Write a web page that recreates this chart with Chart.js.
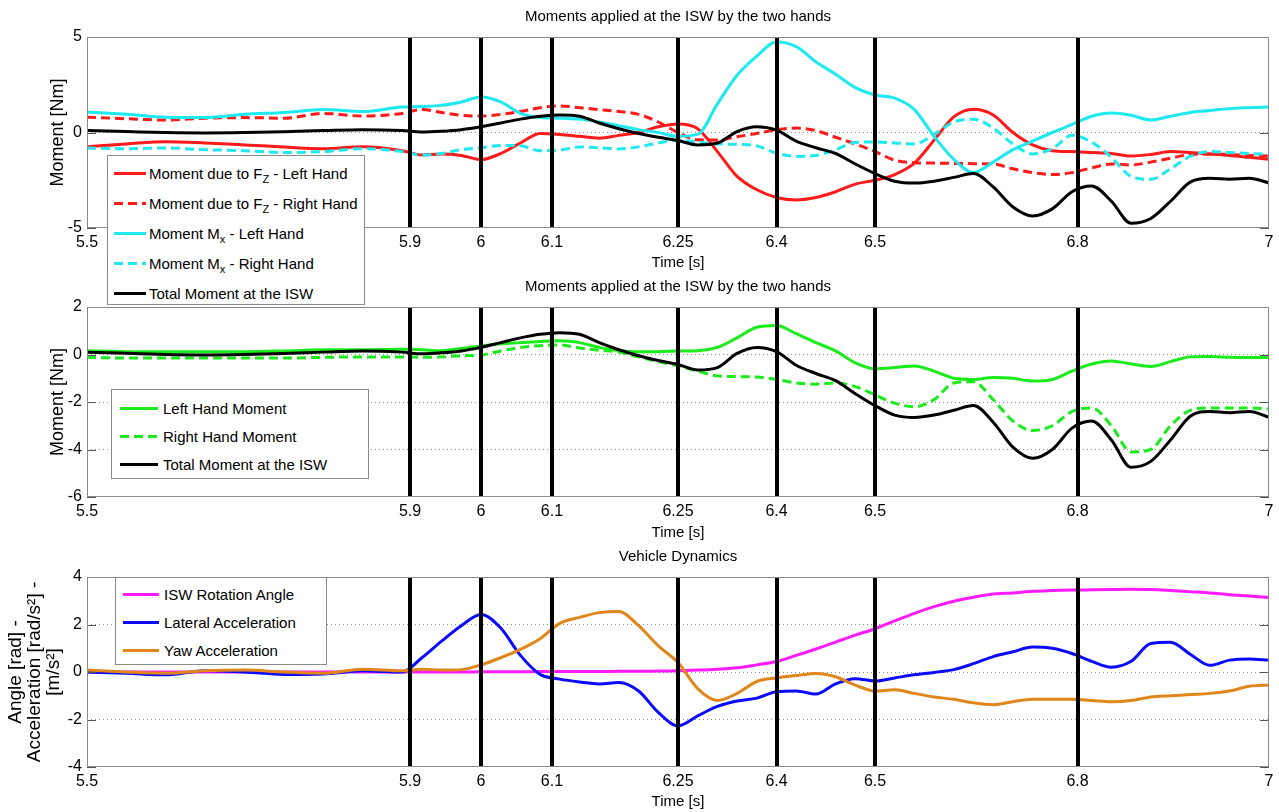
<!DOCTYPE html>
<html>
<head>
<meta charset="utf-8">
<title>ISW moments and vehicle dynamics</title>
<script src="https://cdn.jsdelivr.net/npm/chart.js@4.4.1/dist/chart.umd.min.js"></script>
<style>
    html, body { margin: 0; padding: 0; background: #fff; }
    #page { position: relative; width: 1279px; height: 812px; overflow: hidden; font-family: "Liberation Sans", Arial, sans-serif; }
    #page canvas { position: absolute; left: 0; }
    .legend { position: absolute; box-sizing: border-box; background: #fff; border: 1px solid #8a8a8a; z-index: 2; font-size: 15px; color: #000; }
    .legend .row { display: flex; align-items: center; white-space: nowrap; }
    .legend .swatch { flex: none; height: 3px; }
    .legend sub { font-size: 11px; vertical-align: -4px; line-height: 0; }
</style>
</head>
<body>
<div id="page">
    <canvas id="chart-hands" width="1279" height="275" style="top:0"></canvas>
    <canvas id="chart-total" width="1279" height="270" style="top:275px"></canvas>
    <canvas id="chart-vehicle" width="1279" height="267" style="top:545px"></canvas>
    <div id="legend-hands" class="legend" style="left:107px;top:155px;width:258px;height:150px"></div>
    <div id="legend-total" class="legend" style="left:111px;top:389px;width:258px;height:90px"></div>
    <div id="legend-vehicle" class="legend" style="left:115px;top:577px;width:212px;height:88px"></div>
</div>
<script>
const time = [5.5, 5.55, 5.6, 5.65, 5.7, 5.75, 5.8, 5.85, 5.9, 5.925, 5.95, 5.975, 6.0, 6.025, 6.05, 6.075,
    6.1, 6.125, 6.15, 6.175, 6.2, 6.225, 6.25, 6.275, 6.3, 6.325, 6.35, 6.375, 6.4, 6.425, 6.45, 6.475,
    6.5, 6.525, 6.55, 6.575, 6.6, 6.625, 6.65, 6.675, 6.7, 6.725, 6.75, 6.775, 6.8, 6.825, 6.85, 6.875,
    6.9, 6.925, 6.95, 6.975, 7.0];

// event instants (vertical black lines) and the labels shown under them
const eventTimes = [5.91, 6.0, 6.09, 6.25, 6.375, 6.5, 6.757];
const xTickValues = [5.5, ...eventTimes, 7];
const xTickLabels = ["5.5", "5.9", "6", "6.1", "6.25", "6.4", "6.5", "6.8", "7"];

// top plot
const fzLeft = [-0.74, -0.6, -0.48, -0.55, -0.65, -0.76, -0.85, -0.75, -0.95, -1.18, -1.13, -1.2, -1.42, -1.1, -0.55, -0.05,
    -0.1, -0.2, -0.3, -0.15, 0.0, 0.3, 0.45, 0.2, -1.0, -2.3, -3.0, -3.4, -3.53, -3.4, -3.1, -2.7,
    -2.5, -2.2, -1.6, -0.4, 0.82, 1.22, 0.92, 0.0, -0.65, -0.95, -1.0, -1.05, -1.1, -1.23, -1.15, -1.0,
    -1.05, -1.13, -1.2, -1.3, -1.4];
const fzRight = [0.8, 0.72, 0.65, 0.75, 0.78, 0.75, 1.0, 0.86, 1.0, 1.2, 1.05, 0.9, 0.86, 0.95, 1.1, 1.3,
    1.39, 1.3, 1.2, 1.1, 0.95, 0.55, 0.0, -0.38, -0.39, -0.22, -0.05, 0.15, 0.23, 0.1, -0.25, -0.6,
    -1.0, -1.45, -1.58, -1.6, -1.62, -1.63, -1.65, -1.9, -2.1, -2.2, -2.1, -1.85, -1.65, -1.7, -1.55, -1.35,
    -1.15, -1.12, -1.15, -1.2, -1.23];
const mxLeft = [1.07, 0.95, 0.8, 0.78, 0.95, 1.05, 1.2, 1.1, 1.33, 1.36, 1.42, 1.6, 1.86, 1.6, 1.0, 0.78,
    0.75, 0.7, 0.55, 0.36, 0.15, 0.0, -0.2, -0.1, 1.5, 3.0, 4.0, 4.74, 4.5, 3.7, 3.05, 2.35,
    1.96, 1.8, 1.2, -0.2, -1.4, -2.1, -1.55, -0.9, -0.45, 0.0, 0.42, 0.85, 1.02, 0.9, 0.65, 0.85,
    1.05, 1.15, 1.25, 1.3, 1.34];
const mxRight = [-0.81, -0.85, -0.81, -0.9, -0.95, -1.05, -1.0, -0.85, -1.0, -1.18, -1.1, -0.9, -0.8, -0.68, -0.7, -0.95,
    -0.92, -0.76, -0.8, -0.86, -0.75, -0.55, -0.4, -0.5, -0.6, -0.62, -0.7, -1.08, -1.25, -1.2, -0.9, -0.52,
    -0.5, -0.55, -0.6, -0.1, 0.55, 0.7, 0.23, -0.6, -1.12, -0.85, -0.15, -0.5, -1.3, -2.3, -2.45, -1.9,
    -1.25, -1.0, -1.05, -1.1, -1.13];
const totalMoment = [0.1, 0.05, 0.0, -0.02, 0.0, 0.04, 0.1, 0.15, 0.1, 0.03, 0.07, 0.15, 0.3, 0.5, 0.7, 0.85,
    0.92, 0.85, 0.5, 0.2, -0.05, -0.25, -0.42, -0.65, -0.55, 0.05, 0.3, 0.12, -0.45, -0.8, -1.1, -1.65,
    -2.15, -2.55, -2.65, -2.55, -2.35, -2.15, -2.85, -3.9, -4.37, -4.0, -3.1, -2.8, -3.6, -4.75, -4.5, -3.6,
    -2.6, -2.4, -2.45, -2.4, -2.64];

// middle plot
const leftHandMoment = [0.16, 0.12, 0.12, 0.12, 0.12, 0.15, 0.2, 0.2, 0.22, 0.2, 0.16, 0.25, 0.36, 0.45, 0.5, 0.55,
    0.58, 0.5, 0.3, 0.16, 0.12, 0.12, 0.15, 0.16, 0.3, 0.7, 1.15, 1.22, 0.88, 0.5, 0.15, -0.35,
    -0.6, -0.55, -0.48, -0.7, -1.0, -1.05, -0.97, -1.0, -1.12, -1.05, -0.7, -0.4, -0.27, -0.4, -0.5, -0.3,
    -0.1, -0.08, -0.12, -0.13, -0.13];
const rightHandMoment = [-0.12, -0.15, -0.15, -0.15, -0.15, -0.15, -0.12, -0.1, -0.1, -0.12, -0.1, -0.05, -0.02, 0.15, 0.3, 0.37,
    0.4, 0.27, 0.18, 0.1, -0.1, -0.3, -0.48, -0.7, -0.9, -0.93, -0.95, -1.05, -1.2, -1.25, -1.2, -1.35,
    -1.7, -2.05, -2.2, -1.9, -1.2, -1.15, -1.9, -2.8, -3.2, -3.0, -2.4, -2.25, -3.0, -4.1, -4.0, -3.0,
    -2.35, -2.25, -2.25, -2.25, -2.3];

// bottom plot
const rotationAngle = [0, 0, 0, 0, 0, 0, 0, 0, 0, 0, 0, 0, 0.01, 0.01, 0.01, 0.02,
    0.02, 0.02, 0.02, 0.03, 0.03, 0.04, 0.05, 0.08, 0.12, 0.18, 0.3, 0.44, 0.7, 0.97, 1.26, 1.55,
    1.82, 2.15, 2.47, 2.75, 2.98, 3.15, 3.28, 3.33, 3.4, 3.43, 3.45, 3.46, 3.47, 3.48, 3.47, 3.43,
    3.38, 3.33, 3.25, 3.2, 3.14];
const lateralAccel = [0.0, -0.05, -0.12, 0.05, 0.0, -0.1, -0.08, 0.05, 0.0, 0.6, 1.3, 1.95, 2.42, 1.85, 0.7, -0.1,
    -0.3, -0.42, -0.5, -0.44, -0.8, -1.7, -2.27, -1.85, -1.45, -1.22, -1.1, -0.83, -0.8, -0.93, -0.5, -0.28,
    -0.38, -0.25, -0.12, -0.02, 0.1, 0.35, 0.65, 0.85, 1.05, 1.0, 0.78, 0.45, 0.2, 0.45, 1.2, 1.25,
    0.75, 0.28, 0.5, 0.55, 0.5];
const yawAccel = [0.08, 0.0, -0.05, 0.05, 0.08, 0.0, -0.05, 0.12, 0.05, 0.12, 0.08, 0.1, 0.3, 0.6, 0.95, 1.4,
    2.05, 2.3, 2.5, 2.55, 1.95, 1.1, 0.4, -0.7, -1.2, -0.9, -0.4, -0.25, -0.15, -0.06, -0.2, -0.55,
    -0.8, -0.75, -0.9, -1.05, -1.15, -1.3, -1.38, -1.25, -1.15, -1.15, -1.15, -1.2, -1.25, -1.2, -1.05, -1.0,
    -0.95, -0.9, -0.8, -0.6, -0.55];

Chart.defaults.font.family = '"Liberation Sans", Arial, sans-serif';
Chart.defaults.color = "#000";

function toPoints(values) {
    return values.map((value, i) => ({ x: time[i], y: value }));
}

function series(label, values, color, dashed = false) {
    return {
        label,
        data: toPoints(values),
        borderColor: color,
        backgroundColor: color,
        borderWidth: 3,
        borderDash: dashed ? [9, 5] : [],
        pointRadius: 0,
        cubicInterpolationMode: "monotone",
    };
}

// MATLAB look: event lines, inward y ticks and the grey box
const matlabAxes = {
    id: "matlabAxes",
    afterDatasetsDraw(chart) {
        const { ctx, chartArea: area, scales: { x, y } } = chart;

        ctx.save();
        ctx.strokeStyle = "#000";
        ctx.lineWidth = 4;
        eventTimes.forEach((t) => {
            const px = Math.round(x.getPixelForValue(t));
            ctx.beginPath();
            ctx.moveTo(px, area.top);
            ctx.lineTo(px, area.bottom);
            ctx.stroke();
        });

        ctx.strokeStyle = "#555";
        ctx.lineWidth = 1;
        y.ticks.forEach((tick) => {
            const py = Math.round(y.getPixelForValue(tick.value)) + 0.5;
            ctx.beginPath();
            ctx.moveTo(area.left, py);
            ctx.lineTo(area.left + 9, py);
            ctx.moveTo(area.right - 9, py);
            ctx.lineTo(area.right, py);
            ctx.stroke();
        });

        ctx.strokeStyle = "#8a8a8a";
        ctx.strokeRect(area.left + 0.5, area.top + 0.5, area.right - area.left - 1, area.bottom - area.top - 1);
        ctx.restore();
    },
};

function makeChart(canvasId, cfg) {
    return new Chart(document.getElementById(canvasId), {
        type: "line",
        data: { datasets: cfg.datasets.map((ds, i) => ({ ...ds, order: -i })) },
        plugins: [matlabAxes],
        options: {
            responsive: false,
            animation: false,
            layout: { padding: { left: 0, right: 10, top: 0, bottom: 0 } },
            plugins: {
                legend: { display: false },
                tooltip: { enabled: false },
                title: {
                    display: true,
                    fullSize: false,
                    text: cfg.title,
                    font: { size: 15, weight: "normal", lineHeight: 1.2 },
                    padding: cfg.titlePadding,
                },
            },
            scales: {
                x: {
                    type: "linear",
                    min: 5.5,
                    max: 7,
                    grid: { display: false, drawTicks: false },
                    border: { display: false },
                    afterBuildTicks(scale) {
                        scale.ticks = xTickValues.map((value) => ({ value }));
                    },
                    afterFit(scale) {
                        scale.height = cfg.xHeight;
                    },
                    ticks: {
                        autoSkip: false,
                        maxRotation: 0,
                        padding: 5,
                        font: { size: 16 },
                        callback(value, index) {
                            return xTickLabels[index];
                        },
                    },
                    title: {
                        display: true,
                        text: "Time [s]",
                        font: { size: 15, lineHeight: 1.2 },
                        padding: { top: 0, bottom: cfg.xTitleBottom },
                    },
                },
                y: {
                    min: cfg.yMin,
                    max: cfg.yMax,
                    afterFit(scale) {
                        scale.width = 87;
                    },
                    ticks: { stepSize: cfg.yStep, padding: 5, font: { size: 16 } },
                    grid: {
                        drawTicks: false,
                        lineWidth: 1,
                        color(context) {
                            const v = context.tick?.value;
                            return v === cfg.yMin || v === cfg.yMax ? "rgba(0,0,0,0)" : "#8c8c8c";
                        },
                    },
                    border: { display: false, dash: [1, 3] },
                    title: {
                        display: true,
                        text: cfg.yTitle,
                        font: cfg.yTitleFont,
                        padding: { top: cfg.yTitleTop, bottom: 0 },
                    },
                },
            },
        },
    });
}

function buildLegend(elId, chart, layout) {
    const el = document.getElementById(elId);
    const rows = chart.data.datasets.map((ds) => {
        const dashed = ds.borderDash && ds.borderDash.length;
        const fill = dashed
            ? `repeating-linear-gradient(90deg, ${ds.borderColor} 0 9px, transparent 9px 14px)`
            : ds.borderColor;
        const text = ds.label.replace(/_(\w)/g, "<sub>$1</sub>");
        return `<div class="row" style="height:${layout.rowHeight}px">
            <span class="swatch" style="margin-left:${layout.swatchLeft}px;width:${layout.swatchWidth}px;background:${fill}"></span>
            <span style="margin-left:${layout.gap}px">${text}</span>
        </div>`;
    });
    el.style.paddingTop = `${layout.padTop}px`;
    el.innerHTML = rows.join("");
}

const handsChart = makeChart("chart-hands", {
    title: "Moments applied at the ISW by the two hands",
    titlePadding: { top: 8, bottom: 11 },
    xHeight: 47,
    xTitleBottom: 3,
    yMin: -5,
    yMax: 5,
    yStep: 5,
    yTitle: "Moment [Nm]",
    yTitleFont: { size: 18, lineHeight: 1.2 },
    yTitleTop: 47,
    datasets: [
        series("Moment due to F_Z - Left Hand", fzLeft, "#ff1a1a"),
        series("Moment due to F_Z - Right Hand", fzRight, "#ff1a1a", true),
        series("Moment M_x - Left Hand", mxLeft, "#1de9f0"),
        series("Moment M_x - Right Hand", mxRight, "#1de9f0", true),
        series("Total Moment at the ISW", totalMoment, "#000000"),
    ],
});

const totalChart = makeChart("chart-total", {
    title: "Moments applied at the ISW by the two hands",
    titlePadding: { top: 3, bottom: 11 },
    xHeight: 48,
    xTitleBottom: 3,
    yMin: -6,
    yMax: 2,
    yStep: 2,
    yTitle: "Moment [Nm]",
    yTitleFont: { size: 18, lineHeight: 1.2 },
    yTitleTop: 47,
    datasets: [
        series("Left Hand Moment", leftHandMoment, "#1aeb1a"),
        series("Right Hand Moment", rightHandMoment, "#1aeb1a", true),
        series("Total Moment at the ISW", totalMoment, "#000000"),
    ],
});

const vehicleChart = makeChart("chart-vehicle", {
    title: "Vehicle Dynamics",
    titlePadding: { top: 3, bottom: 11 },
    xHeight: 45,
    xTitleBottom: 1,
    yMin: -4,
    yMax: 4,
    yStep: 2,
    yTitle: ["Angle [rad] -", "Acceleration [rad/s²] -", "[m/s²]"],
    yTitleFont: { size: 19, lineHeight: 1.0 },
    yTitleTop: 6,
    datasets: [
        series("ISW Rotation Angle", rotationAngle, "#ff1aff"),
        series("Lateral Acceleration", lateralAccel, "#0a0aff"),
        series("Yaw Acceleration", yawAccel, "#e0861b"),
    ],
});

buildLegend("legend-hands", handsChart, { padTop: 2, rowHeight: 30, swatchLeft: 6, swatchWidth: 32, gap: 3 });
buildLegend("legend-total", totalChart, { padTop: 4, rowHeight: 28, swatchLeft: 8, swatchWidth: 38, gap: 5 });
buildLegend("legend-vehicle", vehicleChart, { padTop: 2, rowHeight: 28, swatchLeft: 7, swatchWidth: 36, gap: 5 });
</script>
</body>
</html>
